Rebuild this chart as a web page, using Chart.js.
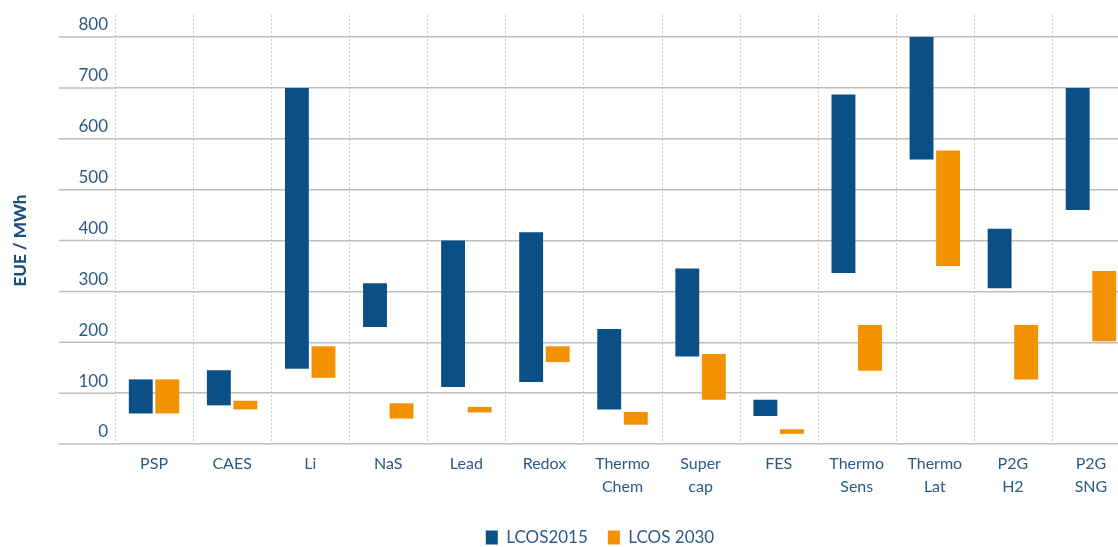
<!DOCTYPE html>
<html>
<head>
<meta charset="utf-8">
<script src="https://cdn.jsdelivr.net/npm/chart.js@4.4.0/dist/chart.umd.min.js"></script>
<style>
  html, body { margin: 0; padding: 0; background: #fff; overflow: hidden; width: 1118px; height: 547px; }
  #wrap { width: 1130px; height: 547px; }
</style>
</head>
<body>
<div id="wrap"><canvas id="chart" width="1130" height="547"></canvas></div>
<script>
// ── data (EUE / MWh ranges) ──
const categories = ['PSP', 'CAES', 'Li', 'NaS', 'Lead', 'Redox', ['Thermo', 'Chem'], ['Super', 'cap'],
                    'FES', ['Thermo', 'Sens'], ['Thermo', 'Lat'], ['P2G', 'H2'], ['P2G', 'SNG']];
const lcos2015Low  = [60, 76, 148, 230, 112, 122, 68, 172, 55, 336, 559, 306, 460];
const lcos2015High = [127, 145, 700, 316, 400, 416, 226, 345, 87, 687, 800, 423, 700];
const lcos2030Low  = [60, 68, 130, 50, 62, 161, 38, 87, 20, 144, 350, 127, 202];
const lcos2030High = [127, 85, 192, 80, 73, 192, 63, 177, 29, 234, 577, 234, 340];

const BLUE = '#0b4f87';
const ORANGE = '#f39200';
const TEXT = '#2b5a85';
const FONT = 'Lato, "Open Sans", sans-serif';

// dotted column separators + gridlines running left under the tick labels
const guides = {
  id: 'guides',
  beforeDraw(chart) {
    const { ctx, chartArea, scales: { x, y } } = chart;
    const half = (x.getPixelForValue(1) - x.getPixelForValue(0)) / 2;
    ctx.save();
    ctx.strokeStyle = '#cccccc';
    ctx.lineWidth = 1;
    ctx.setLineDash([2, 2]);
    for (let i = 0; i <= categories.length; i++) {
      const px = Math.round(x.getPixelForValue(i) - half) + 0.5;
      ctx.beginPath(); ctx.moveTo(px, 15); ctx.lineTo(px, chartArea.bottom); ctx.stroke();
    }
    ctx.setLineDash([]);
    ctx.strokeStyle = '#bdbdbd';
    ctx.lineWidth = 1.5;
    y.ticks.forEach(t => {
      const py = y.getPixelForValue(t.value);
      ctx.beginPath(); ctx.moveTo(59, py); ctx.lineTo(chartArea.left, py); ctx.stroke();
    });
    ctx.restore();
  }
};

// legend sits right of the canvas centre and a little lower than the layout puts it
const legendShift = {
  id: 'legendShift',
  afterLayout(chart) {
    const lg = chart.legend;
    lg.left += 35; lg.right += 35;
    lg.top += 9; lg.bottom += 9;
  }
};

new Chart(document.getElementById('chart'), {
  type: 'bar',
  data: {
    labels: categories,
    datasets: [
      {
        label: 'LCOS2015',
        data: lcos2015Low.map((v, i) => [v, lcos2015High[i]]),
        backgroundColor: BLUE,
        borderWidth: 0
      },
      {
        label: 'LCOS 2030',
        data: lcos2030Low.map((v, i) => [v, lcos2030High[i]]),
        backgroundColor: ORANGE,
        borderWidth: 0
      }
    ]
  },
  options: {
    responsive: false,
    animation: false,
    categoryPercentage: 0.68,
    barPercentage: 0.9,
    layout: { padding: { top: 37, bottom: 0, left: 0, right: 0 } },
    plugins: {
      tooltip: { enabled: false },
      legend: {
        position: 'bottom',
        labels: {
          boxWidth: 12,
          boxHeight: 14,
          padding: 20,
          color: TEXT,
          font: { family: FONT, size: 17 }
        }
      }
    },
    scales: {
      x: {
        grid: { display: false },
        border: { display: false },
        ticks: {
          color: TEXT,
          padding: 1,
          maxRotation: 0,
          autoSkip: false,
          font: { family: FONT, size: 16, lineHeight: 1.4 }
        },
        afterFit: s => { s.height = 56; }
      },
      y: {
        min: 0,
        max: 800,
        grid: { color: '#bdbdbd', lineWidth: 1.5, drawTicks: false },
        border: { display: false },
        ticks: {
          stepSize: 100,
          padding: 7,
          labelOffset: -12,
          color: TEXT,
          font: { family: FONT, size: 17 }
        },
        title: {
          display: true,
          text: 'EUE / MWh',
          color: '#1d4f7e',
          padding: { top: 10, bottom: 0 },
          font: { family: FONT, size: 17, weight: 900 }
        },
        afterFit: s => { s.width = 115; }
      }
    }
  },
  plugins: [guides, legendShift]
});
</script>
</body>
</html>
